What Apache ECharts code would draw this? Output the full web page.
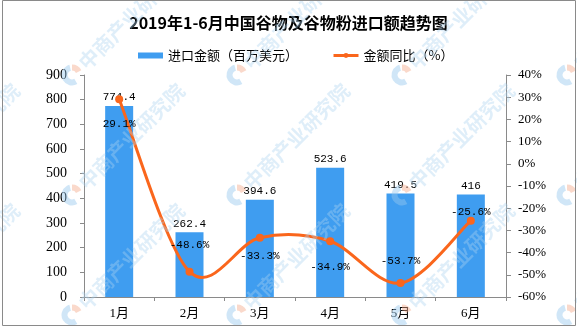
<!DOCTYPE html>
<html>
<head>
<meta charset="utf-8">
<script src="https://cdn.jsdelivr.net/npm/echarts@6/dist/echarts.min.js"></script>
<style>
  html, body { margin: 0; padding: 0; background: #fff; }
  #chart { width: 577px; height: 327px; }
</style>
</head>
<body>
<div id="chart"></div>
<script>
// Monthly import value of cereals and cereal flour, Jan–Jun 2019
const months = ['1月', '2月', '3月', '4月', '5月', '6月'];
const importValue = [774.4, 262.4, 394.6, 523.6, 419.5, 416];   // million USD
const yoyChange = [29.1, -48.6, -33.3, -34.9, -53.7, -25.6];     // %
const leftTicks = { min: 0, max: 900, step: 100 };
const rightTicks = { min: -60, max: 40, step: 10 };

// where each percentage label sits relative to its point
const pctLabelPlacement = [
  { position: 'bottom', distance: 15 },
  { position: 'top', distance: 17 },
  { position: 'bottom', distance: 9 },
  { position: 'bottom', distance: 16 },
  { position: 'top', distance: 12 },
  { position: 'top', distance: -1 }
];

const BLUE = '#3f9df0';
const ORANGE = '#fa661c';
const AXIS_GREY = '#8a8a8a';
const monoFont = '"Liberation Mono", monospace';

// tiled brand mark drawn over the plot
function brandMarks() {
  const els = [];
  const xs = [-93, 72, 237, 402, 567];
  const ys = [75, 195, 315];
  xs.forEach(function (cx) {
    ys.forEach(function (cy) {
      els.push({
        type: 'sector', z: 100, silent: true,
        shape: { cx: cx, cy: cy, r0: 4.5, r: 10.5, startAngle: Math.PI * 0.33, endAngle: Math.PI * 1.42 },
        style: { fill: 'rgba(150,200,238,0.45)' }
      });
      els.push({
        type: 'sector', z: 100, silent: true,
        shape: { cx: cx, cy: cy, r0: 4.5, r: 10.5, startAngle: Math.PI * 1.5, endAngle: Math.PI * 1.85 },
        style: { fill: 'rgba(245,170,140,0.45)' }
      });
      els.push({
        type: 'text', z: 100, silent: true,
        x: cx + 10, y: cy - 9, rotation: Math.PI / 4,
        style: {
          text: '中商产业研究院', x: 0, y: 0,
          fill: 'rgba(170,210,240,0.38)',
          font: 'bold 20px "Noto Sans CJK SC"',
          textAlign: 'left', textVerticalAlign: 'middle'
        }
      });
    });
  });
  return els;
}

// smooth curve through the YoY points (Catmull-Rom as cubic Béziers),
// positioned with the chart's own axes via api.coord
function renderYoyCurve(params, api) {
  if (params.dataIndex !== 0) return null;
  const pts = yoyChange.map(function (v, i) { return api.coord([i, v]); });
  let d = 'M' + pts[0][0] + ' ' + pts[0][1];
  for (let i = 0; i < pts.length - 1; i++) {
    const p0 = pts[Math.max(i - 1, 0)];
    const p1 = pts[i];
    const p2 = pts[i + 1];
    const p3 = pts[Math.min(i + 2, pts.length - 1)];
    const c1x = p1[0] + (p2[0] - p0[0]) / 6;
    const c1y = p1[1] + (p2[1] - p0[1]) / 6;
    const c2x = p2[0] - (p3[0] - p1[0]) / 6;
    const c2y = p2[1] - (p3[1] - p1[1]) / 6;
    d += ' C' + c1x + ' ' + c1y + ' ' + c2x + ' ' + c2y + ' ' + p2[0] + ' ' + p2[1];
  }
  return {
    type: 'path',
    shape: { pathData: d },
    style: { fill: 'none', stroke: ORANGE, lineWidth: 3, lineJoin: 'round' }
  };
}

const chart = echarts.init(document.getElementById('chart'), null, { renderer: 'canvas' });

chart.setOption({
  animation: false,
  backgroundColor: '#fff',
  title: {
    text: '2019年1-6月中国谷物及谷物粉进口额趋势图',
    left: 'center',
    top: 10,
    textStyle: { fontSize: 16, fontWeight: 'bold', color: '#000', fontFamily: '"Noto Sans CJK SC"' }
  },
  legend: {
    left: 133,
    top: 44,
    itemWidth: 25,
    itemHeight: 6,
    itemGap: 34,
    textStyle: { fontSize: 13, color: '#000', fontFamily: '"Noto Sans CJK SC"' },
    data: [
      { name: '进口金额（百万美元）', icon: 'rect' },
      { name: '金额同比（%）', lineStyle: { opacity: 1, color: ORANGE, width: 3 } }
    ]
  },
  grid: { left: 84, right: 71, top: 75, bottom: 30, containLabel: false },
  xAxis: {
    type: 'category',
    data: months,
    axisLine: { lineStyle: { color: AXIS_GREY } },
    axisTick: { show: true, length: 4, lineStyle: { color: AXIS_GREY } },
    axisLabel: { color: '#000', fontSize: 13, margin: 10, fontFamily: '"Liberation Serif", "Noto Sans CJK SC"' }
  },
  yAxis: [
    {
      type: 'value',
      min: leftTicks.min, max: leftTicks.max, interval: leftTicks.step,
      splitLine: { show: false },
      axisLine: { show: true, lineStyle: { color: AXIS_GREY } },
      axisTick: { show: true, length: 4, lineStyle: { color: AXIS_GREY } },
      axisLabel: { color: '#000', fontSize: 14, margin: 17, fontFamily: '"Liberation Serif"' }
    },
    {
      type: 'value',
      min: rightTicks.min, max: rightTicks.max, interval: rightTicks.step,
      splitLine: { show: false },
      axisLine: { show: true, lineStyle: { color: AXIS_GREY } },
      axisTick: { show: true, length: 5, lineStyle: { color: AXIS_GREY } },
      axisLabel: { color: '#000', fontSize: 13, margin: 12, fontFamily: '"Liberation Serif"', formatter: '{value}%' }
    }
  ],
  series: [
    {
      name: '进口金额（百万美元）',
      type: 'bar',
      yAxisIndex: 0,
      barWidth: 28,
      data: importValue,
      itemStyle: { color: BLUE },
      label: {
        show: true, position: 'top', distance: 3,
        color: '#000', fontSize: 11, fontFamily: monoFont
      },
      z: 2
    },
    {
      name: 'yoyCurve',
      type: 'custom',
      coordinateSystem: 'cartesian2d',
      yAxisIndex: 1,
      data: yoyChange.map(function (v, i) { return [i, v]; }),
      encode: { x: 0, y: 1 },
      renderItem: renderYoyCurve,
      silent: true,
      z: 4
    },
    {
      name: '金额同比（%）',
      type: 'line',
      yAxisIndex: 1,
      symbol: 'circle',
      symbolSize: 8,
      lineStyle: { color: ORANGE, width: 3, opacity: 0 },
      itemStyle: { color: ORANGE },
      data: yoyChange.map(function (v, i) {
        return {
          value: v,
          label: {
            show: true,
            position: pctLabelPlacement[i].position,
            distance: pctLabelPlacement[i].distance,
            formatter: function (p) { return p.value + '%'; },
            color: '#000', fontSize: 11, fontFamily: monoFont
          }
        };
      }),
      z: 5
    }
  ],
  graphic: brandMarks().concat([
    {
      type: 'rect', z: 110, silent: true,
      shape: { x: 2.5, y: 0.5, width: 573, height: 325 },
      style: { fill: 'none', stroke: '#8a8a8a', lineWidth: 1 }
    }
  ])
});
</script>
</body>
</html>
